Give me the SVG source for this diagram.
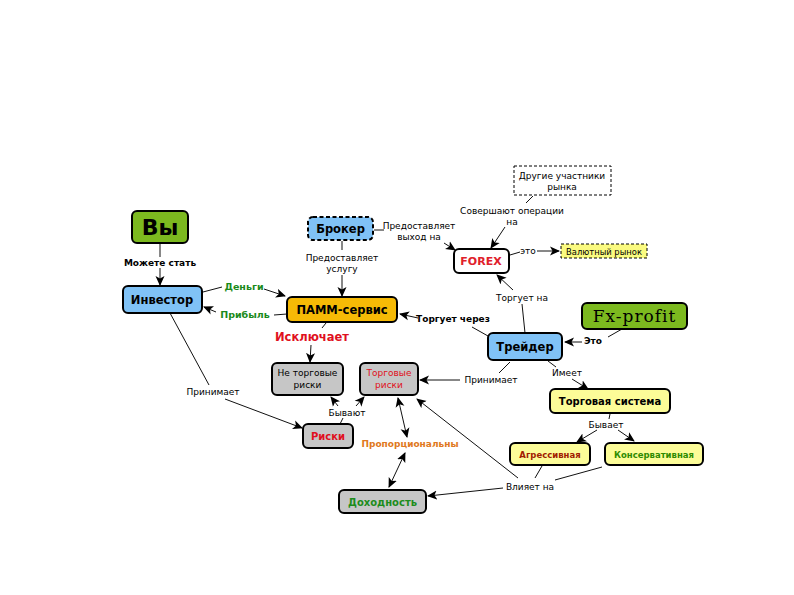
<svg xmlns="http://www.w3.org/2000/svg" width="794" height="595" viewBox="0 0 794 595">
<defs>
<marker id="ah" markerUnits="userSpaceOnUse" markerWidth="10" markerHeight="10" viewBox="0 0 10 10" refX="9" refY="5" orient="auto-start-reverse">
<path d="M0,0.5 L10,5 L0,9.5 L2.5,5 Z" fill="#000"/>
</marker>
</defs>
<style>
.n{stroke:#000;stroke-width:2}
.d{stroke-dasharray:4 2.5}
.bl{fill:#80c2f6}.gr{fill:#7cb91f}.or{fill:#f6ba06}.gy{fill:#c6c6c6}.yl{fill:#fcfc98}.wh{fill:#fff}.vy{fill:#fafa80}
text{font-family:"DejaVu Sans","Liberation Sans",sans-serif;text-anchor:middle}
.b{font-weight:bold}
.t{font-size:9px;fill:#000}
.serif{font-family:"DejaVu Serif","Liberation Serif",serif}
.c line,.c path{stroke:#111;stroke-width:1;fill:none}
.a{marker-end:url(#ah)}
.aa{marker-start:url(#ah);marker-end:url(#ah)}
</style>
<rect width="794" height="595" fill="#fff"/>

<g class="c" id="connectors">
<line x1="160" y1="243" x2="160" y2="257"/>
<line class="a" x1="160" y1="268" x2="160" y2="285"/>
<line x1="203" y1="292" x2="222" y2="287"/>
<line class="a" x1="264" y1="289" x2="285" y2="296"/>
<line x1="287" y1="314" x2="274" y2="315"/>
<line class="a" x1="216" y1="312" x2="204" y2="307"/>
<line x1="374" y1="230" x2="384" y2="230"/>
<line class="a" x1="444" y1="243" x2="455" y2="250"/>
<line x1="342" y1="241" x2="342" y2="250"/>
<line class="a" x1="342" y1="275" x2="342" y2="296"/>
<line x1="533" y1="196" x2="526" y2="203"/>
<line class="a" x1="505" y1="227" x2="491" y2="248"/>
<line x1="510" y1="255" x2="520" y2="252"/>
<line class="a" x1="537" y1="251" x2="559" y2="251"/>
<line x1="525" y1="333" x2="522" y2="304"/>
<line class="a" x1="513" y1="290" x2="497" y2="275"/>
<line x1="488" y1="336" x2="472" y2="327"/>
<line class="a" x1="418" y1="318" x2="400" y2="314"/>
<line x1="622" y1="329" x2="608" y2="337"/>
<line class="a" x1="582" y1="342" x2="565" y2="342"/>
<line x1="548" y1="361" x2="556" y2="367"/>
<line class="a" x1="572" y1="379" x2="588" y2="389"/>
<line x1="510" y1="362" x2="499" y2="373"/>
<line class="a" x1="460" y1="380" x2="420" y2="380"/>
<line x1="170" y1="313" x2="209" y2="385"/>
<line class="a" x1="225" y1="399" x2="302" y2="428"/>
<line x1="326" y1="323" x2="322" y2="328"/>
<line class="a" x1="311" y1="345" x2="310" y2="362"/>
<line x1="340" y1="424" x2="343" y2="418"/>
<line class="a" x1="338" y1="406" x2="331" y2="397"/>
<line class="a" x1="356" y1="406" x2="364" y2="397"/>
<line class="aa" x1="398" y1="398" x2="407" y2="437"/>
<line class="aa" x1="405" y1="453" x2="389" y2="487"/>
<line x1="610" y1="414" x2="609" y2="419"/>
<line class="a" x1="597" y1="430" x2="577" y2="442"/>
<line class="a" x1="618" y1="430" x2="634" y2="441"/>
<line x1="542" y1="466" x2="535" y2="478"/>
<line x1="602" y1="467" x2="555" y2="480"/>
<line class="a" x1="503" y1="488" x2="428" y2="496"/>
<line class="a" x1="518" y1="478" x2="417" y2="399"/>
</g>

<g id="labels">
<text class="t b" x="160" y="266">Можете стать</text>
<text class="b" x="244" y="290" font-size="9.5" fill="#1a8a1a">Деньги</text>
<text class="b" x="245" y="318" font-size="9.5" fill="#1a8a1a">Прибыль</text>
<text class="t" x="419" y="229">Предоставляет</text>
<text class="t" x="419" y="240">выход на</text>
<text class="t" x="342" y="261">Предоставляет</text>
<text class="t" x="342" y="272">услугу</text>
<text class="t" x="512" y="214">Совершают операции</text>
<text class="t" x="512" y="225">на</text>
<text class="t" x="528" y="254">это</text>
<text class="t" x="522" y="301">Торгует на</text>
<text class="t b" x="453" y="322">Торгует через</text>
<text class="t b" x="593" y="344">Это</text>
<text class="t" x="567" y="376">Имеет</text>
<text class="t" x="491" y="383">Принимает</text>
<text class="t" x="213" y="395">Принимает</text>
<text class="b" x="312" y="341" font-size="11.5" fill="#e01020">Исключает</text>
<text class="t" x="347" y="416">Бывают</text>
<text class="t" x="606" y="428">Бывает</text>
<text class="b" x="410" y="447" font-size="9" fill="#e07820">Пропорциональны</text>
<text class="t" x="530" y="490">Влияет на</text>
</g>

<g id="vy"><rect class="n gr" x="132" y="211" width="56" height="32" rx="5"/><text class="b" x="160" y="235" font-size="22">Вы</text></g>
<g id="investor"><rect class="n bl" x="123" y="286" width="79" height="27" rx="5"/><text class="b" x="162" y="304" font-size="11.5">Инвестор</text></g>
<g id="broker"><rect class="n bl d" x="308" y="217" width="65" height="23" rx="5"/><text class="b" x="340.5" y="233" font-size="11.5">Брокер</text></g>
<g id="pamm"><rect class="n or" x="287" y="297" width="110" height="25" rx="5"/><text class="b" x="342" y="314" font-size="11.5">ПАММ-сервис</text></g>
<g id="forex"><rect class="n wh" x="454" y="249" width="55" height="24" rx="5"/><text class="b" x="481" y="265" font-size="11" fill="#e0202a">FOREX</text></g>
<g id="others"><rect x="514" y="166" width="97" height="29" fill="#fff" stroke="#000" stroke-width="1" stroke-dasharray="3 2"/><text class="t" x="562" y="179">Другие участники</text><text class="t" x="562" y="190">рынка</text></g>
<g id="valmarket"><rect class="vy" x="561" y="244" width="86" height="14" stroke="#000" stroke-width="1" stroke-dasharray="3 2"/><text x="604" y="254.5" font-size="8.4">Валютный рынок</text></g>
<g id="fxprofit"><rect class="n gr" x="582" y="303" width="105" height="26" rx="5"/><text class="serif" x="634.5" y="322" font-size="17" letter-spacing="1">Fx-profit</text></g>
<g id="trader"><rect class="n bl" x="488" y="333" width="74" height="27" rx="5"/><text class="b" x="525" y="351" font-size="11.5">Трейдер</text></g>
<g id="tradesys"><rect class="n yl" x="550" y="389" width="120" height="24" rx="5"/><text class="b" x="610" y="405" font-size="10">Торговая система</text></g>
<g id="aggr"><rect class="n yl" x="510" y="443" width="80" height="22" rx="5"/><text class="b" x="550" y="457.5" font-size="8.5" fill="#a02000">Агрессивная</text></g>
<g id="cons"><rect class="n yl" x="605" y="443" width="98" height="22" rx="5"/><text class="b" x="654" y="457.5" font-size="8.5" fill="#2e8b00">Консервативная</text></g>
<g id="nontrade"><rect class="n gy" x="272" y="363" width="71" height="32" rx="5"/><text class="t" x="307.5" y="376">Не торговые</text><text class="t" x="307.5" y="388">риски</text></g>
<g id="traderisk"><rect class="n gy" x="360" y="363" width="58" height="32" rx="5"/><text x="389" y="376" font-size="9" fill="#e01020">Торговые</text><text x="389" y="388" font-size="9" fill="#e01020">риски</text></g>
<g id="risks"><rect class="n gy" x="303" y="424" width="50" height="24" rx="5"/><text class="b" x="328" y="440" font-size="10" fill="#e01020">Риски</text></g>
<g id="income"><rect class="n gy" x="339" y="490" width="87" height="23" rx="5"/><text class="b" x="382.5" y="505.5" font-size="10" fill="#1c8c1c">Доходность</text></g>
</svg>
